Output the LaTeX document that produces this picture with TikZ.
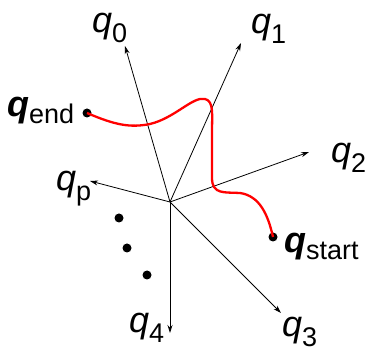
\documentclass[tikz,border=0pt]{standalone}
\usepackage{fontspec}
\setmainfont{Liberation Sans}
\usetikzlibrary{arrows.meta}
\newcommand{\qq}[1]{\textit{q}\raisebox{-10pt}{\fontsize{27}{27}\selectfont #1}}
\newcommand{\qbold}[1]{\textbf{\textit{q}}\raisebox{-7pt}{\fontsize{27}{27}\selectfont #1}}
\begin{document}
\begin{tikzpicture}[x=1pt,y=-1pt,
  axis/.style={line width=0.8pt,-{Stealth[length=8pt,width=5pt]}},
  lab/.style={inner sep=0pt,anchor=base west,font=\fontsize{36}{36}\selectfont},
  pt/.style={circle,fill=black,inner sep=0pt,minimum size=9pt},
  path/.style={red,line width=2.3pt}]
\useasboundingbox (0,0) rectangle (369,352);
\coordinate (O) at (170,202);
\coordinate (t0) at (125,46);
\coordinate (t1) at (241,43);
\coordinate (t2) at (309,152);
\coordinate (tp) at (90,181);
\coordinate (t3) at (281,313);
\coordinate (t4) at (170,333);
\foreach \t in {t0,t1,t2,tp,t3,t4} \draw[axis] (O) -- (\t);
\node[lab] (l0) at (92,33) {\qq{0}};
\node[lab] (l1) at (251,34) {\qq{1}};
\node[lab] (l2) at (331,163) {\qq{2}};
\node[lab] (lp) at (56,191) {\qq{p}};
\node[lab] (l3) at (282,336) {\qq{3}};
\node[lab] (l4) at (129,332) {\qq{4}};
\node[lab] (lend) at (7,117) {\qbold{end}};
\node[lab] (lstart) at (284,253) {\qbold{start}};
\node[pt] (qe) at (87,113) {};
\node[pt] (qs) at (273,237) {};
\node[pt] (d1) at (119,218) {};
\node[pt] (d2) at (127,248) {};
\node[pt] (d3) at (147,275) {};
\draw[path] (qe.center) .. controls (115,125) and (130,128) .. (150,124)
  .. controls (175,118) and (193,96) .. (205,99)
  .. controls (214,101) and (212,115) .. (212,132)
  -- (212,178)
  .. controls (212,195) and (225,192) .. (240,193)
  .. controls (260,196) and (268,215) .. (qs.center);
\end{tikzpicture}
\end{document}
